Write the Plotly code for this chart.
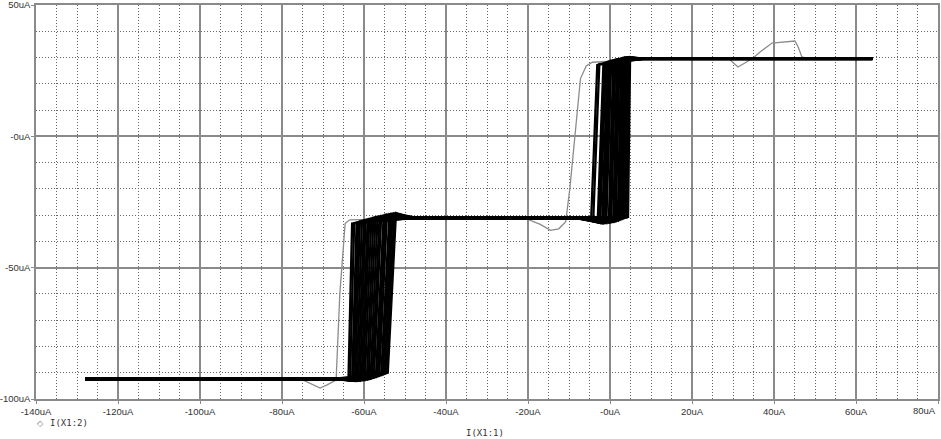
import plotly.graph_objects as go

# axis ticks (last x label is placed separately so it stays inside the page)
x_ticks = [-140, -120, -100, -80, -60, -40, -20, 0, 20, 40, 60, 80]
x_ticklabels = ["-140uA", "-120uA", "-100uA", "-80uA", "-60uA", "-40uA",
                "-20uA", "-0uA", "20uA", "40uA", "60uA", ""]
x_last_label = "80uA"
y_ticks = [-100, -50, 0, 50]
y_ticklabels = ["-100uA", "-50uA", "-0uA", "50uA"]
x_minor = list(range(-140, 81, 5))
y_minor = list(range(-100, 51, 10))

# sweep extent (uA)
sweep_start = -128
sweep_end = 64
low_knee = -66
mid_knee_left = -48
mid_knee_right = -8
top_knee = 8

# one entry per run: lower step (bottom level -> middle level)
bot_y = [-92.4, -92.2, -92.5, -92.3, -92.6, -92.2, -92.5, -92.1, -92.6, -92.3,
         -92.5, -92.2, -92.6, -92.4, -92.7, -92.2, -92.4, -92.6, -92.1, -92.5,
         -92.3, -92.6, -92.2, -92.4]
lo_x0 = [-63.8, -63.4, -62.9, -62.6, -62.2, -61.8, -61.4, -61.0, -60.6, -60.2,
         -59.8, -59.3, -58.9, -58.4, -58.0, -57.6, -57.1, -56.7, -56.3, -55.8,
         -55.4, -55.0, -54.6, -54.2]
lo_x1 = [-62.9, -62.4, -61.8, -61.4, -61.0, -60.5, -60.0, -59.6, -59.1, -58.7,
         -58.2, -57.7, -57.2, -56.7, -56.2, -55.8, -55.2, -54.8, -54.4, -53.8,
         -53.4, -53.0, -52.6, -52.2]
lo_y0 = [-92.8, -92.9, -93.0, -93.0, -93.1, -93.1, -93.0, -93.0, -92.9, -92.8,
         -92.8, -92.6, -92.5, -92.3, -92.1, -91.9, -91.7, -91.4, -91.2, -90.9,
         -90.7, -90.5, -90.2, -90.0]
lo_y1 = [-33.2, -33.0, -32.8, -32.6, -32.4, -32.2, -32.0, -31.8, -31.6, -31.4,
         -31.2, -31.0, -30.8, -30.6, -30.5, -30.3, -30.1, -29.9, -29.8, -29.6,
         -29.5, -29.4, -29.3, -29.2]
mid_y = [-31.0, -30.8, -31.0, -31.2, -30.8, -31.1, -30.9, -31.2, -30.8, -31.0,
         -31.1, -30.9, -31.1, -30.9, -31.2, -30.8, -31.0, -31.1, -30.9, -31.1,
         -30.9, -31.0, -30.8, -31.1]

# upper step (middle level -> top level)
hi_x0 = [-4.6, -4.1, -3.0, -2.7, -2.4, -1.9, -1.6, -1.3, -0.9, -0.3,
         0.0, 0.3, 0.8, 1.1, 1.4, 1.9, 2.2, 2.5, 2.8, 3.1,
         3.4, 3.8, 4.1, 4.4]
hi_x1 = [-3.1, -2.6, -1.6, -1.3, -1.0, -0.6, -0.3, 0.0, 0.3, 0.8,
         1.1, 1.3, 1.7, 2.0, 2.3, 2.7, 3.0, 3.2, 3.5, 3.7,
         4.0, 4.3, 4.6, 4.9]
hi_y0 = [-31.8, -32.2, -32.5, -32.8, -33.0, -33.1, -33.1, -33.0, -33.0, -32.9,
         -32.8, -32.7, -32.6, -32.4, -32.3, -32.1, -31.9, -31.7, -31.5, -31.3,
         -31.1, -30.9, -30.8, -30.7]
hi_y1 = [27.2, 27.5, 27.7, 27.9, 28.1, 28.3, 28.5, 28.6, 28.8, 28.9,
         29.0, 29.2, 29.3, 29.4, 29.5, 29.6, 29.7, 29.8, 29.9, 30.0,
         30.0, 30.1, 30.1, 30.2]
top_y = [29.6, 29.4, 29.7, 29.5, 29.8, 29.5, 29.7, 29.4, 29.6, 29.7,
         29.5, 29.5, 29.7, 29.4, 29.6, 29.8, 29.5, 29.5, 29.7, 29.6,
         29.7, 29.4, 29.5, 29.6]

# the first (lighter) run
first_x = [-75.1, -70.7, -69.0, -66.8, -65.9, -64.6, -63.5, -50.0, -20.0,
           -17.0, -14.5, -12.5, -10.8, -9.8, -7.2, -5.8, -4.3, 10.0, 29.0,
           31.2, 32.9, 34.9, 36.6, 39.5, 45.1, 45.9, 46.8, 48.0, 64.2]
first_y = [-92.6, -95.8, -94.6, -92.8, -60.0, -33.2, -31.8, -31.2, -31.6,
           -33.5, -35.8, -35.2, -32.5, -20.0, 22.0, 26.8, 28.2, 29.4, 29.5,
           26.4, 27.9, 29.8, 32.1, 35.5, 36.3, 34.0, 30.2, 29.8, 29.6]

fig = go.Figure()

fig.add_trace(go.Scatter(x=first_x, y=first_y, mode='lines',
                         line=dict(color='#8c8c8c', width=1.3),
                         hoverinfo='skip'))

for i in range(len(lo_x0)):
    xs = [sweep_start, low_knee, lo_x0[i], lo_x1[i], mid_knee_left,
          mid_knee_right, hi_x0[i], hi_x1[i], top_knee, sweep_end]
    ys = [bot_y[i], bot_y[i], lo_y0[i], lo_y1[i], mid_y[i],
          mid_y[i], hi_y0[i], hi_y1[i], top_y[i], top_y[i]]
    fig.add_trace(go.Scatter(x=xs, y=ys, mode='lines',
                             line=dict(color='black', width=2.3),
                             hoverinfo='skip'))

grid_col = '#8a8a8a'
tick_font = dict(family='Liberation Sans', size=9.5, color='#333333')

fig.update_xaxes(range=[-140, 80], tickmode='array', tickvals=x_ticks,
                 ticktext=x_ticklabels, showgrid=True, gridcolor=grid_col,
                 gridwidth=1.5, zeroline=False, showline=True, mirror=True,
                 linecolor=grid_col, linewidth=1.5, ticks='outside',
                 ticklen=3, tickcolor=grid_col, tickfont=tick_font,
                 automargin=False, ticklabeloverflow='allow',
                 minor=dict(tickmode='array', tickvals=x_minor,
                            showgrid=True, gridcolor='#666666',
                            griddash='1px,2px', gridwidth=1))
fig.update_yaxes(range=[-100, 50], tickmode='array', tickvals=y_ticks,
                 ticktext=y_ticklabels, showgrid=True, gridcolor=grid_col,
                 gridwidth=1.5, zeroline=False, showline=True, mirror=True,
                 linecolor=grid_col, linewidth=1.5, ticks='outside',
                 ticklen=3, tickcolor=grid_col, tickfont=tick_font,
                 automargin=False, ticklabelstandoff=-1,
                 ticklabeloverflow='allow',
                 minor=dict(tickmode='array', tickvals=y_minor,
                            showgrid=True, gridcolor='#666666',
                            griddash='1px,2px', gridwidth=1))

# last x tick label, right-aligned to the frame edge
fig.add_annotation(text=x_last_label, x=x_ticks[-1], y=-0.029, xref='x',
                   yref='paper', showarrow=False, xanchor='right',
                   yanchor='middle', font=tick_font)

mono = dict(family='DejaVu Sans Mono', size=9, color='#333333')
fig.add_annotation(text='◇', x=0.0055, y=-0.061, xref='paper', yref='paper',
                   showarrow=False, xanchor='center', yanchor='middle',
                   font=dict(family='DejaVu Sans', size=8, color='#777777'))
fig.add_annotation(text='I(X1:2)', x=0.0133, y=-0.061, xref='paper',
                   yref='paper', showarrow=False, xanchor='left',
                   yanchor='middle', font=mono)
fig.add_annotation(text='I(X1:1)', x=0.498, y=-0.0863, xref='paper',
                   yref='paper', showarrow=False, xanchor='center',
                   yanchor='middle', font=mono)

fig.update_layout(width=941, height=439, autosize=False, showlegend=False,
                  margin=dict(l=36, r=3, t=5, b=40),
                  plot_bgcolor='white', paper_bgcolor='white')

# page body has a default 8px margin; drop it so the figure sits at 0,0
fig.write_html("out.html", config={'displayModeBar': False},
               post_script="document.body.style.margin = '0px';")
